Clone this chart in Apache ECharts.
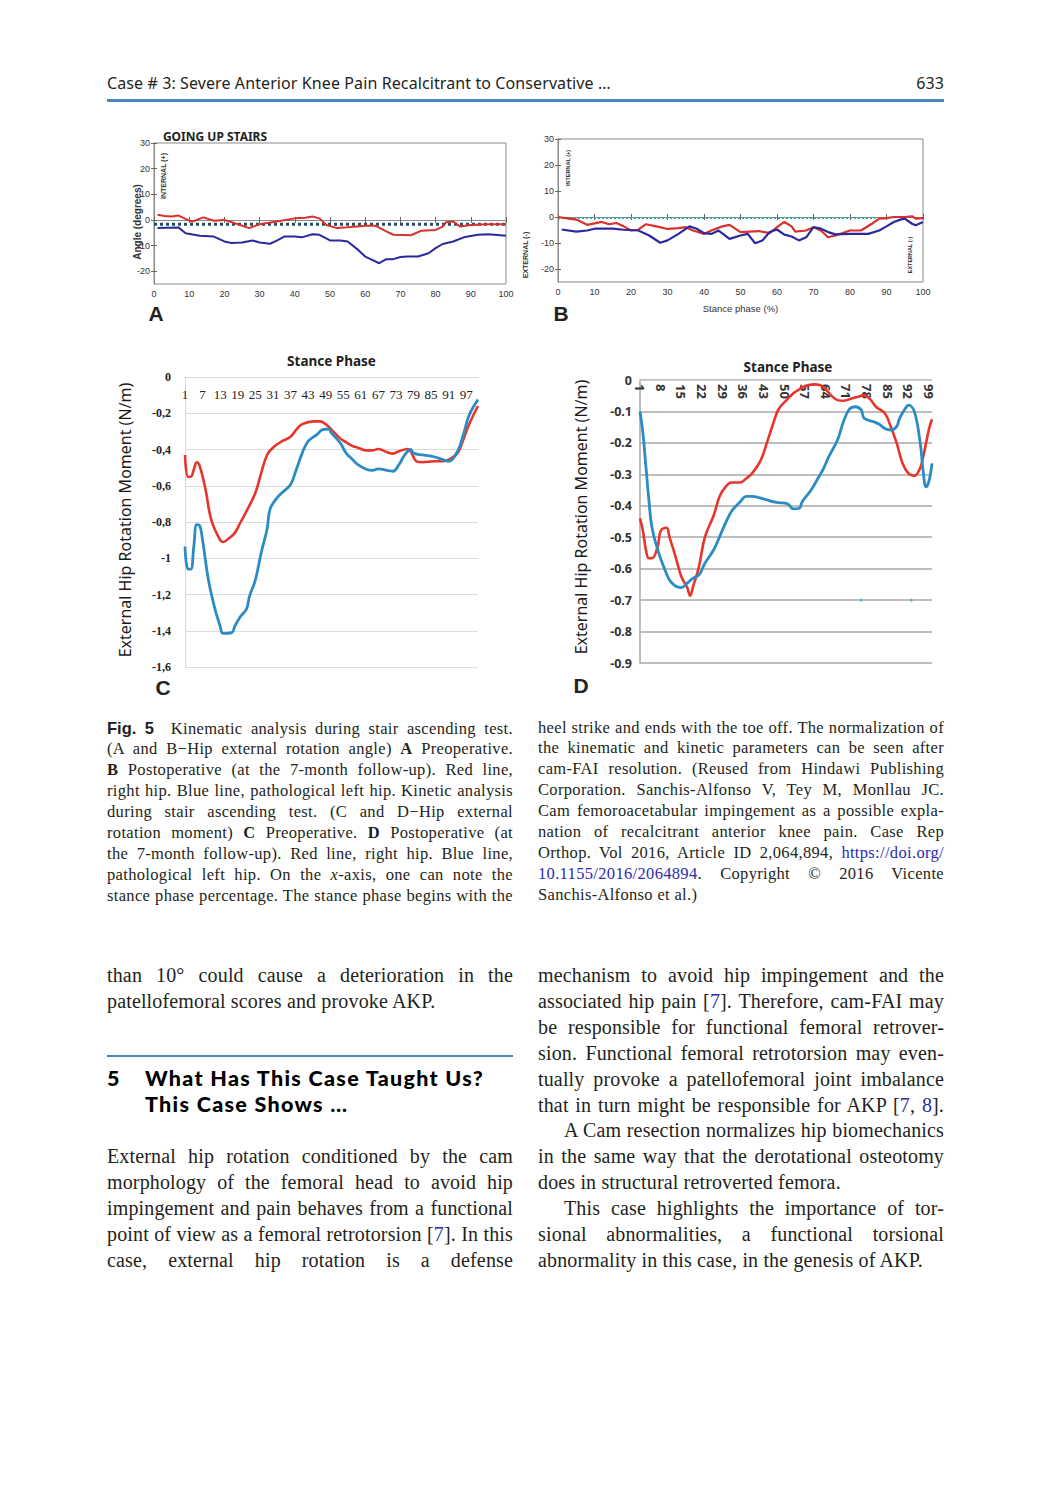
<!DOCTYPE html>
<html><head><meta charset="utf-8">
<script src="https://cdn.jsdelivr.net/npm/echarts@6/dist/echarts.min.js"></script>
<style>
html,body{margin:0;padding:0;background:#fff;}
#page{position:relative;width:1051px;height:1500px;overflow:hidden;background:#fff;}
#chart{position:absolute;left:0;top:0;width:1051px;height:1500px;}
.t{position:absolute;color:#231f20;}
.hdr{font-family:"Noto Sans","Open Sans",sans-serif;font-size:16px;line-height:20px;letter-spacing:0.1px;}
.col{position:absolute;width:406px;font-family:"Liberation Serif","Times New Roman",serif;color:#231f20;}
.cap{font-size:16.5px;line-height:20.9px;letter-spacing:0.33px;}
.body{font-size:20px;line-height:25.9px;letter-spacing:0.15px;}
.j{text-align:justify;text-align-last:justify;white-space:nowrap;}
.l{text-align:left;white-space:nowrap;}
.sb{font-family:"Liberation Sans","Noto Sans",sans-serif;font-weight:bold;letter-spacing:0;}
a{color:#2b2bb0;text-decoration:none;}
.rule{position:absolute;background:#4a87bf;}
.h{position:absolute;font-family:Lato,"Noto Sans",sans-serif;font-weight:900;font-size:21.5px;line-height:26px;height:26px;color:#000;white-space:nowrap;letter-spacing:1.3px;}
</style></head><body>
<div id="page">
<div id="chart"></div>
<div class="t hdr" style="left:107px;top:73px;">Case # 3: Severe Anterior Knee Pain Recalcitrant to Conservative …</div>
<div class="t hdr" style="left:844px;top:73px;width:100px;text-align:right;">633</div>
<div class="rule" style="left:107px;top:99px;width:837px;height:3px;"></div>

<div class="col cap" style="left:107px;top:717.5px;">
<div class="j"><span class="sb">Fig. 5</span>&nbsp; Kinematic analysis during stair ascending test.</div>
<div class="j">(A and B−Hip external rotation angle) <b>A</b> Preoperative.</div>
<div class="j"><b>B</b> Postoperative (at the 7-month follow-up). Red line,</div>
<div class="j">right hip. Blue line, pathological left hip. Kinetic analysis</div>
<div class="j">during stair ascending test. (C and D−Hip external</div>
<div class="j">rotation moment) <b>C</b> Preoperative. <b>D</b> Postoperative (at</div>
<div class="j">the 7-month follow-up). Red line, right hip. Blue line,</div>
<div class="j">pathological left hip. On the <i>x</i>-axis, one can note the</div>
<div class="j">stance phase percentage. The stance phase begins with the</div>
</div>
<div class="col cap" style="left:538px;top:717.5px;">
<div class="j">heel strike and ends with the toe off. The normalization of</div>
<div class="j">the kinematic and kinetic parameters can be seen after</div>
<div class="j">cam-FAI resolution. (Reused from Hindawi Publishing</div>
<div class="j">Corporation. Sanchis-Alfonso V, Tey M, Monllau JC.</div>
<div class="j">Cam femoroacetabular impingement as a possible expla-</div>
<div class="j">nation of recalcitrant anterior knee pain. Case Rep</div>
<div class="j">Orthop. Vol 2016, Article ID 2,064,894, <a>https://doi.org/</a></div>
<div class="j"><a>10.1155/2016/2064894</a>. Copyright © 2016 Vicente</div>
<div class="l">Sanchis-Alfonso et al.)</div>
</div>

<div class="col body" style="left:107px;top:963px;">
<div class="j">than 10° could cause a deterioration in the</div>
<div class="l">patellofemoral scores and provoke AKP.</div>
</div>
<div class="rule" style="left:107px;top:1055px;width:406px;height:2px;"></div>
<div class="h" style="left:107px;top:1065px;">5</div>
<div class="h" style="left:145px;top:1065px;">What Has This Case Taught Us?</div>
<div class="h" style="left:145px;top:1091px;">This Case Shows …</div>
<div class="col body" style="left:107px;top:1144px;">
<div class="j">External hip rotation conditioned by the cam</div>
<div class="j">morphology of the femoral head to avoid hip</div>
<div class="j">impingement and pain behaves from a functional</div>
<div class="j">point of view as a femoral retrotorsion [<a>7</a>]. In this</div>
<div class="j">case, external hip rotation is a defense</div>
</div>
<div class="col body" style="left:538px;top:963px;">
<div class="j">mechanism to avoid hip impingement and the</div>
<div class="j">associated hip pain [<a>7</a>]. Therefore, cam-FAI may</div>
<div class="j">be responsible for functional femoral retrover-</div>
<div class="j">sion. Functional femoral retrotorsion may even-</div>
<div class="j">tually provoke a patellofemoral joint imbalance</div>
<div class="j">that in turn might be responsible for AKP [<a>7</a>, <a>8</a>].</div>
<div class="j" style="padding-left:26px;">A Cam resection normalizes hip biomechanics</div>
<div class="j">in the same way that the derotational osteotomy</div>
<div class="l">does in structural retroverted femora.</div>
<div class="j" style="padding-left:26px;">This case highlights the importance of tor-</div>
<div class="j">sional abnormalities, a functional torsional</div>
<div class="l">abnormality in this case, in the genesis of AKP.</div>
</div>
</div>
<script>
// ---------- Panel A (preoperative hip rotation angle) ----------
const A_RED_X = [1,3,5,7,10,11,14,17,20,23,27,30,35,40,43,45,47,49,52,55,60,63,66,68,73,76,80,82,83,85,87,90,95,100];
const A_RED_Y = [2,1.5,1.3,1.7,-0.3,-0.6,1,-0.3,0,-1.3,-3.2,-1.7,-0.6,0.6,0.8,1.3,0.6,-2,-3.2,-2.9,-2.3,-2.3,-4.5,-5.8,-6,-4.2,-3.9,-2.6,-0.9,-0.6,-2.6,-2,-1.7,-1.7];
const A_BLUE_X = [1,7,9,13,17,20,22,25,28,30,33,35,37,40,42,45,47,50,53,55,58,60,62,64,66,68,70,72,75,78,80,82,85,88,92,95,100];
const A_BLUE_Y = [-3.2,-3,-5.2,-6.2,-6.5,-8.4,-9,-8.8,-8,-8.8,-9.3,-8,-6.5,-6.5,-6.8,-5.6,-5.8,-8,-8,-8.4,-11.7,-14.3,-15.6,-16.9,-15.3,-15.3,-14.5,-14.3,-14.3,-13,-11,-9.4,-8.4,-6.8,-5.8,-5.6,-6.2];
const A_REF_X = [0,100];
const A_REF_Y = [-1.7,-1.7];
// ---------- Panel B (postoperative hip rotation angle) ----------
const B_RED_X = [0,3,5,8,12,14,16,18,20,22,24,27,30,33,35,37,40,42,45,47,50,55,58,60,62,64,65,68,70,72,74,76,80,83,86,88,90,92,95,97,98,100];
const B_RED_Y = [0,-0.6,-1,-3,-1.9,-2.8,-2.3,-3.6,-5.2,-4.9,-2.8,-3.6,-4.6,-4.3,-3.9,-5.2,-6.5,-5.2,-3.6,-3,-5.8,-5.4,-6.2,-3.9,-1.9,-3.6,-5.6,-5.2,-3.9,-5.2,-7.8,-7.1,-5.2,-5.2,-2.6,-0.6,-0.4,0,0,0.3,-0.6,-0.4];
const B_BLUE_X = [1,5,8,10,15,18,22,25,28,30,33,36,38,40,42,44,47,50,52,54,56,58,60,62,64,66,68,70,72,74,76,80,85,88,90,92,94,95,97,98,100];
const B_BLUE_Y = [-4.8,-5.6,-5.2,-4.5,-4.5,-4.9,-5.2,-7.1,-9.9,-9,-6.5,-3.6,-4.5,-6.2,-6.5,-5.2,-8.4,-7.1,-6.5,-10.1,-9,-5.8,-4.8,-6.8,-7.5,-9,-7.8,-3.9,-4.5,-5.8,-6.7,-6.5,-6.5,-5.2,-3.6,-1.9,-0.9,-0.6,-2.6,-3.2,-1.9];
const B_REF_X = [0,87];
const B_REF_Y = [-0.4,-0.4];
const ANGLE_TICKS = [-20,-10,0,10,20,30];
// ---------- Panel C (preoperative rotation moment) ----------
const C_RED_X = [1,2,3,4,5,6,8,10,13,14,16,18,20,22,25,27,29,31,34,37,39,41,45,47,49,51,54,56,58,60,63,65,67,70,72,74,77,78,80,82,86,89,91,94,96,98,101];
const C_RED_Y = [-0.43,-0.55,-0.55,-0.51,-0.47,-0.49,-0.62,-0.79,-0.9,-0.91,-0.89,-0.86,-0.8,-0.74,-0.64,-0.53,-0.43,-0.39,-0.355,-0.33,-0.29,-0.26,-0.245,-0.245,-0.26,-0.29,-0.34,-0.36,-0.38,-0.39,-0.405,-0.405,-0.397,-0.415,-0.423,-0.41,-0.397,-0.41,-0.465,-0.47,-0.465,-0.465,-0.456,-0.42,-0.345,-0.26,-0.16];
const C_BLUE_X = [1,2,3,4,5,6,7,9,11,13,14,17,18,20,22,23,25,27,29,30,32,34,37,39,41,43,46,48,50,51,54,56,58,60,63,65,67,70,72,74,76,78,79,82,86,89,91,94,96,98,101];
const C_BLUE_Y = [-0.935,-1.06,-1.06,-0.935,-0.815,-0.82,-0.9,-1.12,-1.265,-1.375,-1.415,-1.41,-1.375,-1.32,-1.28,-1.21,-1.12,-0.97,-0.84,-0.73,-0.675,-0.64,-0.594,-0.51,-0.42,-0.355,-0.318,-0.29,-0.287,-0.31,-0.364,-0.42,-0.452,-0.484,-0.51,-0.515,-0.507,-0.515,-0.52,-0.484,-0.43,-0.4,-0.42,-0.43,-0.44,-0.456,-0.465,-0.41,-0.318,-0.21,-0.125];
const C_STANCE_COUNT = 101;
// ---------- Panel D (postoperative rotation moment) ----------
const D_RED_X = [1,2,3,4,5,7,8,10,11,13,15,17,18,19,21,23,26,28,30,32,35,37,39,42,44,46,48,51,53,55,57,60,62,64,66,68,70,73,75,77,79,81,84,86,88,90,92,94,96,97,98,99,100];
const D_RED_Y = [-0.44,-0.48,-0.54,-0.567,-0.567,-0.53,-0.48,-0.47,-0.5,-0.56,-0.625,-0.66,-0.686,-0.657,-0.593,-0.5,-0.43,-0.37,-0.34,-0.326,-0.326,-0.313,-0.297,-0.254,-0.2,-0.143,-0.093,-0.061,-0.042,-0.03,-0.019,-0.014,-0.016,-0.03,-0.051,-0.064,-0.066,-0.058,-0.053,-0.048,-0.061,-0.085,-0.106,-0.148,-0.2,-0.265,-0.297,-0.305,-0.28,-0.244,-0.2,-0.155,-0.125];
const D_BLUE_X = [1,2,3,4,5,7,9,11,13,15,17,19,21,23,26,28,30,32,35,37,39,42,44,46,48,51,53,55,56,59,61,63,65,68,70,72,74,76,77,80,82,84,86,88,89,91,92,94,96,97,98,99,100];
const D_BLUE_Y = [-0.1,-0.17,-0.275,-0.38,-0.466,-0.54,-0.593,-0.636,-0.655,-0.66,-0.646,-0.63,-0.62,-0.583,-0.54,-0.498,-0.455,-0.418,-0.387,-0.37,-0.37,-0.376,-0.381,-0.387,-0.39,-0.394,-0.41,-0.408,-0.387,-0.35,-0.318,-0.286,-0.244,-0.19,-0.132,-0.093,-0.085,-0.095,-0.122,-0.132,-0.14,-0.154,-0.159,-0.148,-0.122,-0.09,-0.08,-0.1,-0.2,-0.29,-0.34,-0.32,-0.265];
const D_DOT_X = [76,93];
const D_DOT_Y = [-0.7,-0.7];
const D_STANCE_COUNT = 100;

const RED_AB = '#d9312b', BLUE_AB = '#2a2a9c';
const RED_CD = '#e8342a', BLUE_CD = '#2b8cc3';

function zip(xs, ys){ return xs.map((x,i)=>[x, ys[i]]); }
function zipCat(xs, ys){ return xs.map((x,i)=>[x-1, ys[i]]); }
const cCats = Array.from({length:C_STANCE_COUNT},(_, i)=>String(i+1));
const dCats = Array.from({length:D_STANCE_COUNT},(_, i)=>String(i+1));

const chart = echarts.init(document.getElementById('chart'), null, {renderer:'svg'});
const axFont = {fontFamily:'"Liberation Sans", Arial, sans-serif', fontSize:9, color:'#333'};
function angleX(grid, pos, show, name){
  return {gridIndex:grid, type:'value', min:0, max:100, interval:10, position:pos,
    axisLine:{show:true, lineStyle:{color:'#8a8a8a'}},
    axisTick:{show:true, inside:true, length:3, lineStyle:{color:'#666'}},
    axisLabel:Object.assign({show:show, margin:5}, axFont),
    splitLine:{show:false},
    name:name||'', nameLocation:'middle', nameGap:21,
    nameTextStyle:{fontFamily:'"Liberation Sans", Arial, sans-serif', fontSize:9.5, color:'#333'}};
}
function angleY(grid, pos, show){
  return {gridIndex:grid, type:'value', min:-25, max:30, position:pos,
    axisLine:{show:true, lineStyle:{color:'#8a8a8a'}},
    axisTick:{show:true, inside:true, length:3, customValues:ANGLE_TICKS, lineStyle:{color:'#666'}},
    axisLabel:Object.assign({show:show, margin:4, customValues:ANGLE_TICKS}, axFont),
    splitLine:{show:false}};
}
const option = {
  animation:false,
  backgroundColor:'transparent',
  grid:[
    {left:154, top:143, width:352, height:141, show:true, borderColor:'#8a8a8a', borderWidth:1},
    {left:558, top:139, width:365, height:143, show:true, borderColor:'#8a8a8a', borderWidth:1},
    {left:185, top:377, width:293, height:290},
    {left:640, top:380, width:292, height:283}
  ],
  xAxis:[
    angleX(0,'bottom',true), angleX(0,'top',false),
    angleX(1,'bottom',true,'Stance phase (%)'), angleX(1,'top',false),
    {gridIndex:2, type:'category', data:cCats, boundaryGap:false, position:'top',
      axisLine:{show:true, lineStyle:{color:'#d9d9d9'}}, axisTick:{show:false},
      axisLabel:{inside:true, interval:5, margin:11, fontFamily:'"Liberation Serif", "DejaVu Serif", serif', fontSize:13, color:'#222', hideOverlap:false},
      splitLine:{show:false}},
    {gridIndex:3, type:'category', data:dCats, boundaryGap:false, position:'top',
      axisLine:{show:true, lineStyle:{color:'#d0d0d0'}}, axisTick:{show:false},
      axisLabel:{inside:true, interval:6, rotate:-90, margin:4, fontFamily:'"Noto Sans", sans-serif', fontWeight:'bold', fontSize:13, color:'#333', hideOverlap:false},
      splitLine:{show:false}}
  ],
  yAxis:[
    angleY(0,'left',true), angleY(0,'right',false),
    angleY(1,'left',true), angleY(1,'right',false),
    {gridIndex:2, type:'value', min:-1.6, max:0, interval:0.2,
      axisLine:{show:true, lineStyle:{color:'#d9d9d9'}}, axisTick:{show:false},
      axisLabel:{margin:14, fontFamily:'"Liberation Serif", "DejaVu Serif", serif', fontSize:12, fontWeight:'bold', color:'#222',
        formatter:v=>String(Math.round(v*10)/10).replace('.',',')},
      splitLine:{show:true, lineStyle:{color:'#dcdcdc', width:1}}},
    {gridIndex:3, type:'value', min:-0.9, max:0, interval:0.1,
      axisLine:{show:true, lineStyle:{color:'#a8a8a8', width:1.5}}, axisTick:{show:false},
      axisLabel:{margin:8, fontFamily:'"Noto Sans", sans-serif', fontSize:12.5, fontWeight:'bold', color:'#333',
        formatter:v=>String(Math.round(v*10)/10)},
      splitLine:{show:true, lineStyle:{color:'#a8a8a8', width:1.5}}}
  ],
  series:[
    {type:'line', xAxisIndex:0, yAxisIndex:0, data:zip(A_REF_X,A_REF_Y), showSymbol:false, lineStyle:{color:'#1e4d66', width:3, type:[3,3]}, z:3},
    {type:'line', xAxisIndex:0, yAxisIndex:0, data:zip(A_RED_X,A_RED_Y), showSymbol:false, lineStyle:{color:RED_AB, width:2}},
    {type:'line', xAxisIndex:0, yAxisIndex:0, data:zip(A_BLUE_X,A_BLUE_Y), showSymbol:false, lineStyle:{color:BLUE_AB, width:2}},
    {type:'line', xAxisIndex:2, yAxisIndex:2, data:zip(B_REF_X,B_REF_Y), showSymbol:false, lineStyle:{color:'#39a5a0', width:2, type:[2,2]}},
    {type:'line', xAxisIndex:2, yAxisIndex:2, data:zip(B_RED_X,B_RED_Y), showSymbol:false, lineStyle:{color:RED_AB, width:2.2}},
    {type:'line', xAxisIndex:2, yAxisIndex:2, data:zip(B_BLUE_X,B_BLUE_Y), showSymbol:false, lineStyle:{color:BLUE_AB, width:2.2}},
    {type:'line', xAxisIndex:4, yAxisIndex:4, data:zipCat(C_RED_X,C_RED_Y), showSymbol:false, smooth:0.4, lineStyle:{color:RED_CD, width:2.6}},
    {type:'line', xAxisIndex:4, yAxisIndex:4, data:zipCat(C_BLUE_X,C_BLUE_Y), showSymbol:false, smooth:0.4, lineStyle:{color:BLUE_CD, width:2.8}},
    {type:'line', xAxisIndex:5, yAxisIndex:5, data:zipCat(D_RED_X,D_RED_Y), showSymbol:false, smooth:0.4, lineStyle:{color:RED_CD, width:2.6}},
    {type:'line', xAxisIndex:5, yAxisIndex:5, data:zipCat(D_BLUE_X,D_BLUE_Y), showSymbol:false, smooth:0.4, lineStyle:{color:BLUE_CD, width:2.8}},
    {type:'scatter', xAxisIndex:5, yAxisIndex:5, data:zipCat(D_DOT_X,D_DOT_Y), symbolSize:3, itemStyle:{color:'#46b4d0'}}
  ],
  graphic:[
    {type:'text', x:215, y:136, style:{text:'GOING UP STAIRS', font:'bold 12px "Noto Sans", sans-serif', fill:'#222', align:'center', verticalAlign:'middle'}},
    {type:'text', x:137, y:222, rotation:Math.PI/2, style:{text:'Angle (degrees)', font:'bold 10px "Liberation Sans", sans-serif', fill:'#333', align:'center', verticalAlign:'middle'}},
    {type:'text', x:163, y:176, rotation:Math.PI/2, style:{text:'INTERNAL (+)', font:'bold 7px "Liberation Sans", sans-serif', fill:'#333', align:'center', verticalAlign:'middle'}},
    {type:'text', x:525, y:255, rotation:Math.PI/2, style:{text:'EXTERNAL (-)', font:'bold 7px "Liberation Sans", sans-serif', fill:'#333', align:'center', verticalAlign:'middle'}},
    {type:'text', x:568, y:168, rotation:Math.PI/2, style:{text:'INTERNAL (+)', font:'bold 5.5px "Liberation Sans", sans-serif', fill:'#333', align:'center', verticalAlign:'middle'}},
    {type:'text', x:910, y:255, rotation:Math.PI/2, style:{text:'EXTERNAL (-)', font:'bold 5.5px "Liberation Sans", sans-serif', fill:'#333', align:'center', verticalAlign:'middle'}},
    {type:'text', x:156, y:313, style:{text:'A', font:'bold 21px "Liberation Sans", sans-serif', fill:'#222', align:'center', verticalAlign:'middle'}},
    {type:'text', x:561, y:313, style:{text:'B', font:'bold 21px "Liberation Sans", sans-serif', fill:'#222', align:'center', verticalAlign:'middle'}},
    {type:'text', x:163, y:687, style:{text:'C', font:'bold 21px "Liberation Sans", sans-serif', fill:'#222', align:'center', verticalAlign:'middle'}},
    {type:'text', x:581, y:685, style:{text:'D', font:'bold 21px "Liberation Sans", sans-serif', fill:'#222', align:'center', verticalAlign:'middle'}},
    {type:'text', x:331.5, y:360.5, style:{text:'Stance Phase', font:'bold 13.5px "Noto Sans", sans-serif', fill:'#222', align:'center', verticalAlign:'middle'}},
    {type:'text', x:788, y:367, style:{text:'Stance Phase', font:'bold 13.5px "Noto Sans", sans-serif', fill:'#222', align:'center', verticalAlign:'middle'}},
    {type:'text', x:125, y:520, rotation:Math.PI/2, style:{text:'External Hip Rotation Moment (N/m)', font:'16px "Noto Sans", sans-serif', fill:'#1a1a1a', align:'center', verticalAlign:'middle'}},
    {type:'text', x:581, y:517, rotation:Math.PI/2, style:{text:'External Hip Rotation Moment (N/m)', font:'16px "Noto Sans", sans-serif', fill:'#1a1a1a', align:'center', verticalAlign:'middle'}}
  ]
};
chart.setOption(option);
</script>
</body></html>
